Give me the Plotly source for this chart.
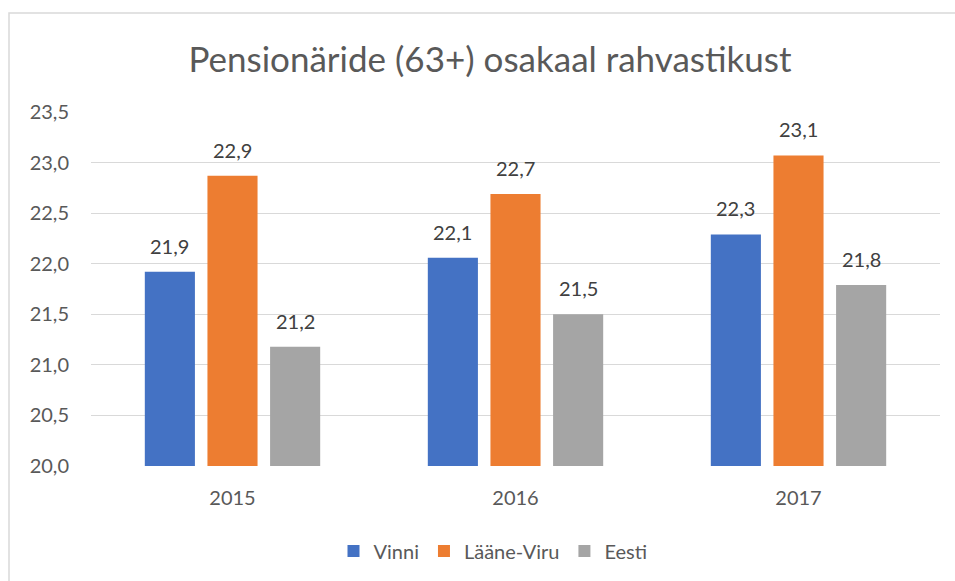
import plotly.graph_objects as go

years = ["2015", "2016", "2017"]
vinni = [21.92, 22.06, 22.29]
laane_viru = [22.87, 22.69, 23.07]
eesti = [21.18, 21.50, 21.79]
series_names = ["Vinni", "Lääne-Viru", "Eesti"]
colors = ["#4472C4", "#ED7D31", "#A5A5A5"]
tick_vals = [20.0, 20.5, 21.0, 21.5, 22.0, 22.5, 23.0, 23.5]

FONT = "Lato"
L, R, T, B = 91, 15, 112, 115
W, H = 955, 581
PW, PH = W - L - R, H - T - B
BARGAP, GROUPGAP = 0.336, 0.2

fig = go.Figure()
annotations = []
slot = (PW / 3) * (1 - BARGAP) / 3
for i, (name, vals, col) in enumerate(zip(series_names, [vinni, laane_viru, eesti], colors)):
    fig.add_trace(go.Bar(
        x=years, y=vals, name=name, marker=dict(color=col, line=dict(width=0)),
        hoverinfo="skip",
    ))
    for j, v in enumerate(vals):
        annotations.append(dict(
            x=j, y=v, xref="x", yref="y", text=f"{v:.1f}".replace(".", ","),
            showarrow=False, yanchor="bottom", xanchor="center",
            xshift=(i - 1) * slot, yshift=12,
            font=dict(family=FONT, size=20, color="#404040"),
        ))

fig.update_layout(
    width=W, height=H,
    margin=dict(l=L, r=R, t=T, b=B, autoexpand=False),
    paper_bgcolor="white", plot_bgcolor="white",
    separators=", ",
    barmode="group", bargap=BARGAP, bargroupgap=GROUPGAP,
    title=dict(text="Pensionäride (63+) osakaal rahvastikust", xref="paper",
               x=(490 - L) / PW, xanchor="center",
               y=1 - 60 / H, yanchor="middle",
               font=dict(family=FONT, size=35, color="#595959")),
    font=dict(family=FONT, size=20, color="#595959"),
    xaxis=dict(type="category", range=[-0.5, 2.5], showgrid=False, showline=False, ticks="",
               ticklabelstandoff=18, tickfont=dict(size=20, color="#595959")),
    yaxis=dict(range=[20, 23.5], tickvals=tick_vals, tickformat=".1f",
               showgrid=True, gridcolor="#D9D9D9", gridwidth=1.3, zeroline=False,
               showline=False, ticks="", ticklabelstandoff=21,
               tickfont=dict(size=20, color="#595959")),
    legend=dict(orientation="h", x=(493 - L) / PW, xanchor="center",
                y=(466 - 551) / PH, yanchor="middle",
                font=dict(size=20, color="#595959"), traceorder="normal"),
    annotations=annotations,
    shapes=[dict(type="rect", xref="paper", yref="paper",
                 x0=(9 - L) / PW, x1=(990 - L) / PW,
                 y0=(466 - 620) / PH, y1=(466 - 13) / PH,
                 line=dict(color="#D9D9D9", width=1.5), layer="below")],
)
fig.write_html("out.html", config={"displayModeBar": False},
               post_script="document.body.style.margin='0px';")
